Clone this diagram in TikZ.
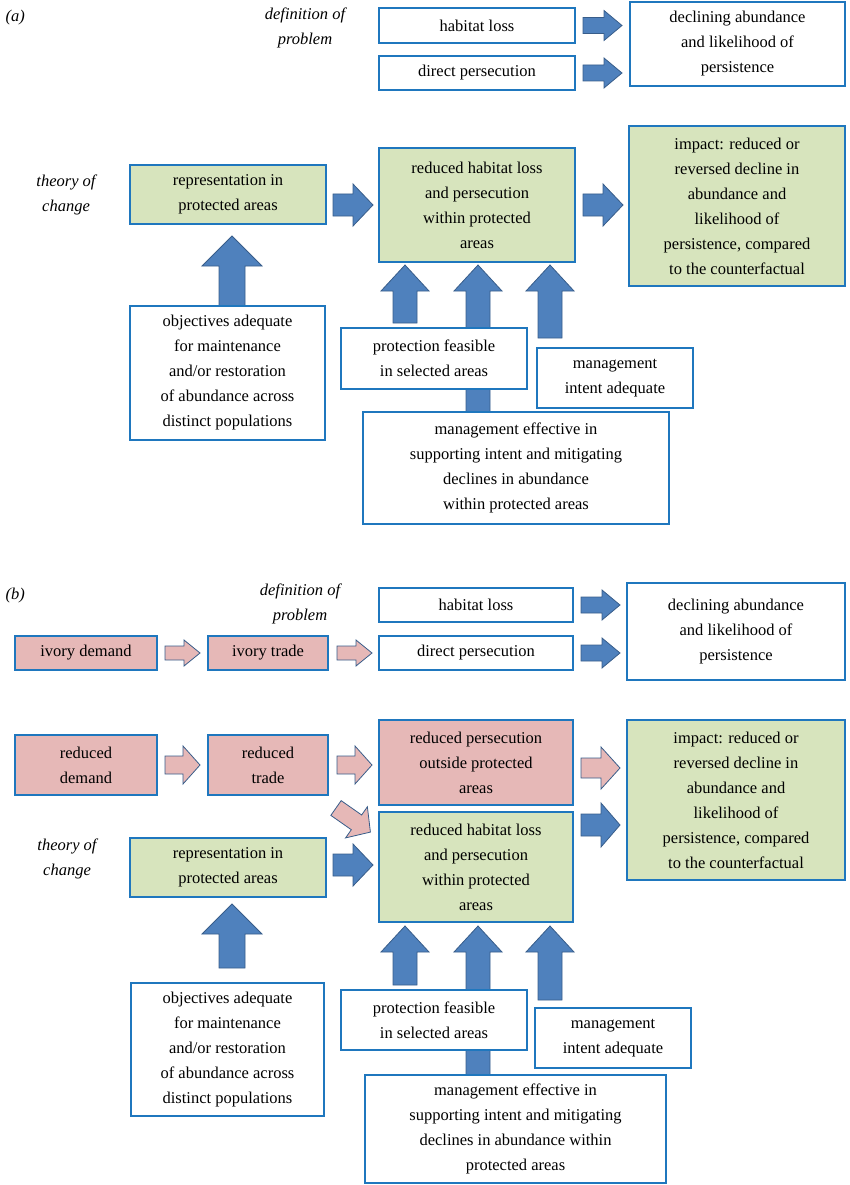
\documentclass[tikz,border=0pt]{standalone}
\usepackage{fontspec}
\setmainfont{Liberation Serif}
\usepackage{tikz}
\usetikzlibrary{positioning, calc}
\definecolor{boxblue}{RGB}{31,119,190}
\definecolor{arrowblue}{RGB}{79,129,189}
\definecolor{arrowline}{RGB}{56,93,138}
\definecolor{greenfill}{RGB}{215,228,189}
\definecolor{pinkfill}{RGB}{230,184,183}
\tikzset{
  box/.style={draw=boxblue, line width=1.6pt, fill=white, align=center, inner sep=2pt, font=\fontsize{16.5}{25}\selectfont},
  green/.style={box, fill=greenfill},
  pink/.style={box, fill=pinkfill},
  blk/.style={fill=arrowblue, draw=arrowline, line width=0.8pt},
  pnk/.style={fill=pinkfill, draw=arrowline, line width=0.8pt},
  lab/.style={align=center, font=\fontsize{16.5}{25}\selectfont\itshape}
}
% fat arrow: style, base, angle, length, shaft half, head half, head length
\newcommand{\fatarrow}[7]{%
  \begin{scope}[shift={(#2)}, rotate=#3]
    \draw[#1] (0,-#5) -- ({#4-#7},-#5) -- ({#4-#7},-#6) -- (#4,0) -- ({#4-#7},#6) -- ({#4-#7},#5) -- (0,#5) -- cycle;
  \end{scope}}
\begin{document}
\begin{tikzpicture}[x=1pt, y=-1pt]
\useasboundingbox (0,0) rectangle (850,1185);

%% (a)
\node[lab, anchor=west] (tagA) at (2,18) {(a)};
\node[lab] (defA) at (305,28) {definition of\\problem};
\node[box, minimum width=196pt, minimum height=35pt] (habA) at (477,25.5) {habitat loss};
\node[box, minimum width=196pt, minimum height=34pt] (perA) at (477,73) {direct persecution};
\node[box, minimum width=215pt, minimum height=84pt] (decA) at (737.5,44) {declining abundance\\and likelihood of\\persistence};
\fatarrow{blk}{583,25.5}{0}{39}{8}{15}{18}
\fatarrow{blk}{583,73}{0}{39}{8}{15}{18}

\node[lab] (tocA) at (66,195) {theory of\\change};
\node[green, minimum width=196pt, minimum height=59pt] (repA) at (228,194.5) {representation in\\protected areas};
\node[green, minimum width=196pt, minimum height=114pt] (redA) at (477,205) {reduced habitat loss\\and persecution\\within protected\\areas};
\node[green, minimum width=216pt, minimum height=160pt] (impA) at (737,206) {impact: reduced or\\reversed decline in\\abundance and\\likelihood of\\persistence, compared\\to the counterfactual};
\fatarrow{blk}{333,205}{0}{40}{11}{21}{20}
\fatarrow{blk}{583,205}{0}{40}{11}{21}{20}

\fatarrow{blk}{232,306}{90}{70}{13}{30}{30}
\fatarrow{blk}{405,323}{90}{58}{12}{24}{26}
\fatarrow{blk}{478,412}{90}{147}{12}{24}{26}
\fatarrow{blk}{550,338}{90}{73}{12}{24}{26}
\node[box, minimum width=195pt, minimum height=134pt] (objA) at (227.5,373) {objectives adequate\\for maintenance\\and/or restoration\\of abundance across\\distinct populations};
\node[box, minimum width=186pt, minimum height=61pt] (proA) at (434,358.5) {protection feasible\\in selected areas};
\node[box, minimum width=156pt, minimum height=60pt] (intA) at (615,378) {management\\intent adequate};
\node[box, minimum width=306pt, minimum height=112pt] (effA) at (516,468) {management effective in\\supporting intent and mitigating\\declines in abundance\\within protected areas};

%% (b)
\node[lab, anchor=west] (tagB) at (2,596) {(b)};
\node[lab] (defB) at (300,604) {definition of\\problem};
\node[box, minimum width=194pt, minimum height=34pt] (habB) at (476,605) {habitat loss};
\node[box, minimum width=194pt, minimum height=34pt] (perB) at (476,653) {direct persecution};
\node[box, minimum width=218pt, minimum height=97pt] (decB) at (736,631.5) {declining abundance\\and likelihood of\\persistence};
\node[pink, minimum width=142pt, minimum height=34pt] (demB) at (86,653) {ivory demand};
\node[pink, minimum width=120pt, minimum height=34pt] (trdB) at (268,653) {ivory trade};
\fatarrow{pnk}{165,653}{0}{35}{7}{13}{16}
\fatarrow{pnk}{337,653}{0}{35}{7}{13}{16}
\fatarrow{blk}{581,605}{0}{39}{8}{15}{18}
\fatarrow{blk}{581,653}{0}{39}{8}{15}{18}

\node[pink, minimum width=142pt, minimum height=60pt] (rdemB) at (86,765) {reduced\\demand};
\node[pink, minimum width=120pt, minimum height=60pt] (rtrdB) at (268,765) {reduced\\trade};
\node[pink, minimum width=194pt, minimum height=85pt] (rperB) at (476,762.5) {reduced persecution\\outside protected\\areas};
\node[green, minimum width=218pt, minimum height=160pt] (impB) at (736,800) {impact: reduced or\\reversed decline in\\abundance and\\likelihood of\\persistence, compared\\to the counterfactual};
\fatarrow{pnk}{165,765}{0}{35}{9}{19}{17}
\fatarrow{pnk}{337,765}{0}{35}{9}{19}{17}
\fatarrow{pnk}{581,768}{0}{39}{10}{21}{19}
\fatarrow{blk}{581,825}{0}{39}{11}{22}{19}
\fatarrow{pnk}{336,808}{-35}{42}{9}{19}{17}

\node[lab] (tocB) at (67,859) {theory of\\change};
\node[green, minimum width=196pt, minimum height=59pt] (repB) at (228,867.5) {representation in\\protected areas};
\node[green, minimum width=194pt, minimum height=110pt] (redB) at (476,867) {reduced habitat loss\\and persecution\\within protected\\areas};
\fatarrow{blk}{333,865}{0}{40}{11}{21}{20}

\fatarrow{blk}{232,968}{90}{64}{13}{30}{30}
\fatarrow{blk}{405,985}{90}{59}{12}{24}{26}
\fatarrow{blk}{478,1075}{90}{149}{12}{24}{26}
\fatarrow{blk}{550,1000}{90}{74}{12}{24}{26}
\node[box, minimum width=193pt, minimum height=133pt] (objB) at (227.5,1049.5) {objectives adequate\\for maintenance\\and/or restoration\\of abundance across\\distinct populations};
\node[box, minimum width=186pt, minimum height=60pt] (proB) at (434,1020) {protection feasible\\in selected areas};
\node[box, minimum width=156pt, minimum height=60pt] (intB) at (613,1038) {management\\intent adequate};
\node[box, minimum width=301pt, minimum height=108pt] (effB) at (515.5,1129) {management effective in\\supporting intent and mitigating\\declines in abundance within\\protected areas};
\end{tikzpicture}
\end{document}
